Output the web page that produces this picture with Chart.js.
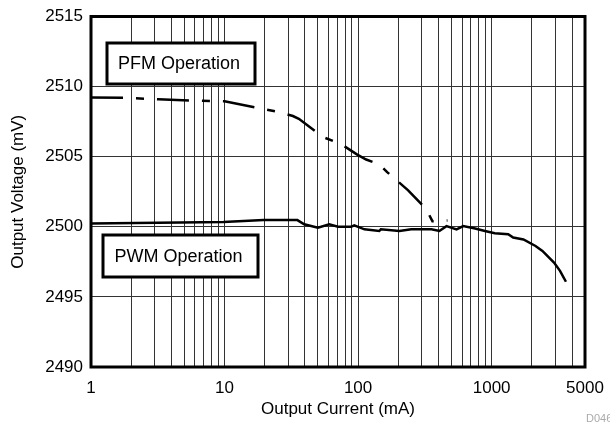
<!DOCTYPE html>
<html>
<head>
<meta charset="utf-8">
<script src="https://cdn.jsdelivr.net/npm/chart.js@4"></script>
<style>
html,body{margin:0;padding:0;background:#fff;}
#wrap{width:610px;height:426px;}
</style>
</head>
<body>
<div id="wrap"><canvas id="c" width="610" height="426"></canvas></div>
<script>
// Output current (mA) and output voltage (mV)
const pfmCurrent = [1, 1.77, 3.19, 5.55, 10, 17.4, 25, 32.5, 36, 54.5, 74.5, 98.5, 115, 144, 165, 237, 324, 360, 467];
const pfmVoltage = [2509.23, 2509.2, 2509.1, 2509.0, 2508.95, 2508.5, 2508.2, 2507.9, 2507.7, 2506.4, 2505.9, 2505.15, 2504.8, 2504.45, 2503.9, 2502.6, 2501.25, 2500.4, 2500.45];

const pwmCurrent = [1, 4.66, 9.8, 19.6, 35.1, 39.5, 50, 60.8, 70.7, 88.6, 93.6, 111.6, 144, 148, 204, 250, 354, 406, 459, 546, 612, 752, 891, 1055, 1330, 1450, 1730, 2130, 2400, 2930, 3250, 3600];
const pwmVoltage = [2500.23, 2500.3, 2500.34, 2500.48, 2500.48, 2500.18, 2499.94, 2500.18, 2500.0, 2500.0, 2500.1, 2499.82, 2499.7, 2499.82, 2499.7, 2499.82, 2499.82, 2499.7, 2500.05, 2499.82, 2500.05, 2499.88, 2499.7, 2499.54, 2499.47, 2499.23, 2499.1, 2498.63, 2498.28, 2497.45, 2496.86, 2496.08];

const xTickLabels = [1, 10, 100, 1000, 5000];
const yTickValues = [2490, 2495, 2500, 2505, 2510, 2515];

const seriesNames = ['PFM Operation', 'PWM Operation'];

const FONT = '"Liberation Sans", Arial, Helvetica, sans-serif';

function toPoints(xs, ys) { return xs.map((x, i) => ({x: x, y: ys[i]})); }

const xGridValues = [];
for (let e = 0; e <= 3; e++) {
  for (let m = 1; m <= 9; m++) {
    const v = m * Math.pow(10, e);
    if (v <= 5000) xGridValues.push(v);
  }
}

const overlay = {
  id: 'overlay',
  afterDraw(chart) {
    const ctx = chart.ctx;
    const a = chart.chartArea;
    ctx.save();
    ctx.strokeStyle = '#000';
    ctx.lineWidth = 3;
    ctx.strokeRect(a.left, a.top, a.right - a.left, a.bottom - a.top);
    // label boxes
    const boxes = [
      {text: seriesNames[0], x: 107, y: 43, w: 148, h: 41},
      {text: seriesNames[1], x: 103, y: 235, w: 155, h: 42}
    ];
    boxes.forEach(b => {
      ctx.fillStyle = '#fff';
      ctx.fillRect(b.x, b.y, b.w, b.h);
      ctx.lineWidth = 3;
      ctx.strokeStyle = '#000';
      ctx.strokeRect(b.x, b.y, b.w, b.h);
      ctx.fillStyle = '#000';
      ctx.font = '18px ' + FONT;
      ctx.textAlign = 'center';
      ctx.textBaseline = 'middle';
      ctx.fillText(b.text, b.x + b.w / 2 - 2, b.y + b.h / 2 + 1);
    });
    ctx.fillStyle = '#aaa';
    ctx.font = '11px ' + FONT;
    ctx.textAlign = 'left';
    ctx.textBaseline = 'middle';
    ctx.fillText('D046', 586, 419);
    ctx.restore();
  }
};

new Chart(document.getElementById('c'), {
  type: 'line',
  data: {
    datasets: [
      {
        label: seriesNames[0],
        data: toPoints(pfmCurrent, pfmVoltage),
        borderColor: '#000',
        borderWidth: 2.5,
        borderDash: [32, 13, 8, 13],
        pointRadius: 0,
        tension: 0,
        fill: false
      },
      {
        label: seriesNames[1],
        data: toPoints(pwmCurrent, pwmVoltage),
        borderColor: '#000',
        borderWidth: 2.5,
        pointRadius: 0,
        tension: 0,
        fill: false
      }
    ]
  },
  options: {
    responsive: false,
    animation: false,
    layout: {padding: {top: 16.5, right: 25, left: 0, bottom: 0}},
    plugins: {legend: {display: false}, tooltip: {enabled: false}},
    scales: {
      x: {
        type: 'logarithmic',
        min: 1,
        max: 5000,
        afterBuildTicks: s => { s.ticks = xGridValues.map(v => ({value: v})); },
        afterFit: s => { s.height = 59; s.paddingLeft = 0; s.paddingRight = 0; },
        grid: {color: '#333', lineWidth: 1, drawTicks: false},
        border: {display: false},
        ticks: {
          autoSkip: false,
          maxRotation: 0,
          padding: 11,
          color: '#000',
          font: {family: FONT, size: 17},
          callback: v => xTickLabels.includes(v) ? String(v) : ''
        },
        title: {display: true, text: 'Output Current (mA)', color: '#000', font: {family: FONT, size: 17}, padding: {top: 0, bottom: 6}}
      },
      y: {
        min: 2490,
        max: 2515,
        afterBuildTicks: s => { s.ticks = yTickValues.map(v => ({value: v})); },
        afterFit: s => { s.width = 91; s.paddingTop = 0; s.paddingBottom = 0; },
        grid: {color: '#333', lineWidth: 1, drawTicks: false},
        border: {display: false},
        ticks: {
          padding: 8,
          color: '#000',
          font: {family: FONT, size: 17},
          callback: v => String(v)
        },
        title: {display: true, text: 'Output Voltage (mV)', color: '#000', font: {family: FONT, size: 17}, padding: {top: 8, bottom: 0}}
      }
    }
  },
  plugins: [overlay]
});
</script>
</body>
</html>
